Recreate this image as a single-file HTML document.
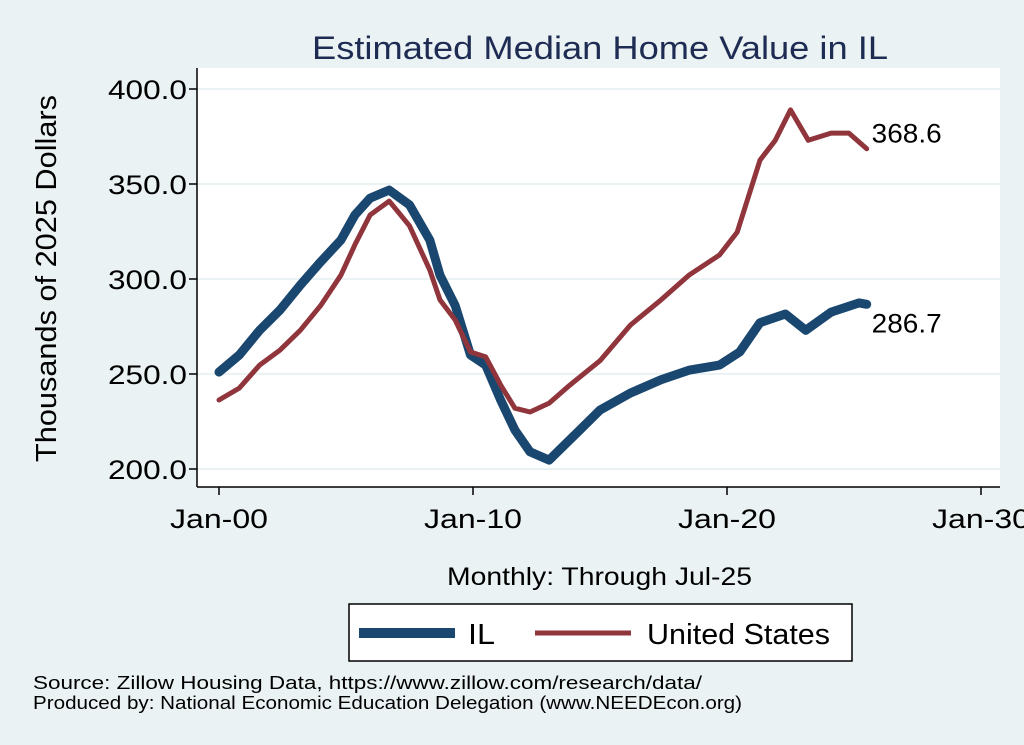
<!DOCTYPE html>
<html><head><meta charset="utf-8"><style>
body{margin:0;background:#eaf2f3;font-family:"Liberation Sans",sans-serif}
svg{display:block}
</style></head><body>
<svg width="1024" height="745" viewBox="0 0 1024 745">
<rect x="0" y="0" width="1024" height="745" fill="#eaf2f3"/>
<rect x="197" y="68" width="803" height="419" fill="#fff"/>
<text x="312" y="59" font-size="32" fill="#1e2c53" textLength="576" lengthAdjust="spacingAndGlyphs">Estimated Median Home Value in IL</text>
<g id="grid"></g><g id="axes"></g><g id="series"></g>
<text transform="translate(56,462) rotate(-90)" font-size="29" textLength="367" lengthAdjust="spacingAndGlyphs">Thousands of 2025 Dollars</text>
<text x="447" y="585" font-size="25" textLength="305" lengthAdjust="spacingAndGlyphs">Monthly: Through Jul-25</text>
<g>
<rect x="349" y="604" width="503" height="57" fill="#fff" stroke="#000" stroke-width="1.5"/>
<line x1="359" y1="633" x2="455" y2="633" stroke="#1a476f" stroke-width="10"/>
<text x="468" y="644" font-size="29" textLength="27" lengthAdjust="spacingAndGlyphs">IL</text>
<line x1="535" y1="633" x2="631" y2="633" stroke="#90353b" stroke-width="5"/>
<text x="647" y="644" font-size="29" textLength="183" lengthAdjust="spacingAndGlyphs">United States</text>
</g>
<text x="33" y="689" font-size="18" textLength="669" lengthAdjust="spacingAndGlyphs">Source: Zillow Housing Data, https://www.zillow.com/research/data/</text>
<text x="33" y="709" font-size="18" textLength="709" lengthAdjust="spacingAndGlyphs">Produced by: National Economic Education Delegation (www.NEEDEcon.org)</text>
</svg>
<script>
const yTicks=[200,250,300,350,400];
const yTickLabels=["200.0","250.0","300.0","350.0","400.0"];
const xTicks=[2000,2010,2020,2030];
const xTickLabels=["Jan-00","Jan-10","Jan-20","Jan-30"];
const ilYears=[2000.0,2000.8,2001.6,2002.4,2003.2,2004.0,2004.8,2005.35,2005.95,2006.7,2007.5,2008.3,2008.7,2009.3,2009.9,2010.5,2011.1,2011.65,2012.25,2013.0,2013.4,2014.2,2015.0,2016.2,2017.4,2018.5,2019.7,2020.5,2021.3,2022.3,2023.1,2024.1,2025.2,2025.5];
const ilValues=[251,260,273,283.7,296.8,309,320.5,333.7,342.6,346.8,339,320.5,302,286,260,254.7,236,220.5,209,204.7,210,220.5,231,240,247,252,254.7,261.6,277,281.6,273,282.6,287.4,286.7];
const usYears=[2000.0,2000.8,2001.6,2002.4,2003.2,2004.0,2004.8,2005.35,2005.95,2006.7,2007.5,2008.3,2008.7,2009.3,2009.9,2010.5,2011.1,2011.65,2012.25,2013.0,2013.8,2015.0,2016.2,2017.4,2018.5,2019.7,2020.4,2021.3,2021.9,2022.5,2023.2,2024.1,2024.8,2025.5];
const usValues=[236.3,242.6,254.7,262.6,273,286,302,318,333.7,341,328,304.7,289,278.4,261.6,259,244,232,230,234.7,244,257,275.8,289,302,312.6,324.7,362.6,373,389,373,376.8,376.8,368.6];
const ns="http://www.w3.org/2000/svg";
const X=v=>219+(v-2000)*25.4;
const Y=v=>469-(v-200)*1.9;
function mk(t,a,p){const e=document.createElementNS(ns,t);for(const k in a)e.setAttribute(k,a[k]);p.appendChild(e);return e;}
const grid=document.getElementById('grid'),axes=document.getElementById('axes'),ser=document.getElementById('series');
mk('line',{x1:197,y1:68,x2:197,y2:487,stroke:'#000','stroke-width':1.5},axes);
mk('line',{x1:197,y1:487,x2:1000,y2:487,stroke:'#000','stroke-width':1.5},axes);
yTicks.forEach((v,i)=>{
 const g=mk('line',{x1:197,y1:Y(v),x2:1000,y2:Y(v),stroke:'#eaf2f3','stroke-width':2},grid);
 
 
 mk('line',{x1:189,y1:Y(v),x2:197,y2:Y(v),stroke:'#000','stroke-width':1.5},axes);
 const t=mk('text',{x:108,y:Y(v)+10,'font-size':27,textLength:79,lengthAdjust:'spacingAndGlyphs'},axes);
 t.textContent=yTickLabels[i];
 
 
});
xTicks.forEach((v,i)=>{
 mk('line',{x1:X(v),y1:487,x2:X(v),y2:495,stroke:'#000','stroke-width':1.5},axes);
 const t=mk('text',{x:X(v)-49,y:528,'font-size':27,textLength:98,lengthAdjust:'spacingAndGlyphs'},axes);
 t.textContent=xTickLabels[i];
 
 
});
function line(xs,ys,col,w,name){
 const d=xs.map((x,i)=>(i?'L':'M')+X(x).toFixed(1)+','+Y(ys[i]).toFixed(1)).join('');
 const p=mk('path',{d:d,fill:'none',stroke:col,'stroke-width':w,'stroke-linejoin':'round','stroke-linecap':'round'},ser);
 
 
}
line(ilYears,ilValues,'#1a476f',9,'il-line');
line(usYears,usValues,'#90353b',5,'us-line');
function endLabel(xs,ys,dy,name){
 const n=xs.length-1;
 const t=mk('text',{x:X(xs[n])+5,y:Y(ys[n])+dy,'font-size':27,textLength:70,lengthAdjust:'spacingAndGlyphs'},ser);
 t.textContent=ys[n].toFixed(1);
 
 
}
endLabel(ilYears,ilValues,28,'il-end-label');
endLabel(usYears,usValues,-6,'us-end-label');
</script>
</body></html>
